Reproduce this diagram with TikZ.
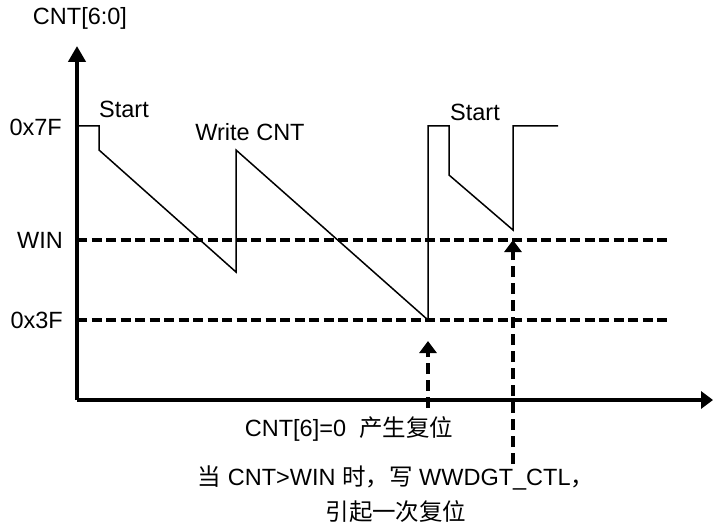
\documentclass[tikz,border=0pt]{standalone}
\usepackage{fontspec}
\setmainfont{Liberation Sans}
\newfontfamily\cjk{Noto Sans CJK SC}
\usetikzlibrary{arrows.meta,positioning}

\begin{document}
\begin{tikzpicture}[x=1pt, y=-1pt,
  axis/.style={line width=4pt, -{Triangle[length=#1]}},
  level/.style={line width=3.6pt, dash pattern=on 10pt off 4.5pt},
  hint/.style={line width=3.6pt, dash pattern=on 11pt off 6pt, -{Triangle[length=12pt, width=17pt]}},
  wave/.style={line width=1.5pt, line join=miter},
  lbl/.style={font=\fontsize{23.5}{28}\selectfont, inner sep=1pt}
]
  \useasboundingbox (0,0) rectangle (713,527);

  % Axes
  \coordinate (O) at (77,400);
  \coordinate (Ytop) at (77,46);
  \coordinate (Xend) at (713,400);
  \draw[axis=16pt] (O) -- (Ytop);
  \draw[axis=12pt] (O) -- (Xend);
  \node[lbl] (ylab) at (80,18) {CNT[6:0]};

  % Levels
  \node[lbl, anchor=east] (top) at (63,127) {0x7F};
  \node[lbl, anchor=east] (win) at (64,240) {WIN};
  \node[lbl, anchor=east] (low) at (64,320) {0x3F};
  \coordinate (winL) at (77,240);
  \coordinate (winR) at (670,240);
  \coordinate (lowL) at (77,320);
  \coordinate (lowR) at (670,320);
  \draw[level] (winL) -- (winR);
  \draw[level] (lowL) -- (lowR);

  % Counter waveform
  \draw[wave] (77,126) -- (99,126) -- (99,150) -- (236,272) -- (236,150)
    -- (428,320) -- (428,126) -- (449,126) -- (449,175) -- (513,230)
    -- (513,126) -- (558,126);

  \node[lbl] (start1) at (124,109) {Start};
  \node[lbl] (wcnt) at (250,132) {Write CNT};
  \node[lbl] (start2) at (475,112) {Start};

  % Reset arrows
  \coordinate (r1) at (428,408);
  \coordinate (r1tip) at (428,341);
  \coordinate (r2) at (513,464);
  \coordinate (r2tip) at (513,240);
  \draw[hint] (r1) -- (r1tip);
  \draw[hint] (r2) -- (r2tip);

  \node[lbl] (reset1) at (349,429) {CNT[6]=0\ \ {\cjk 产生复位}};
  \node[lbl, align=center] (reset2) at (396,494)
    {{\cjk 当} CNT>WIN {\cjk 时，写} WWDGT\_CTL{\cjk ，}\\[7pt]{\cjk 引起一次复位}};
\end{tikzpicture}
\end{document}
